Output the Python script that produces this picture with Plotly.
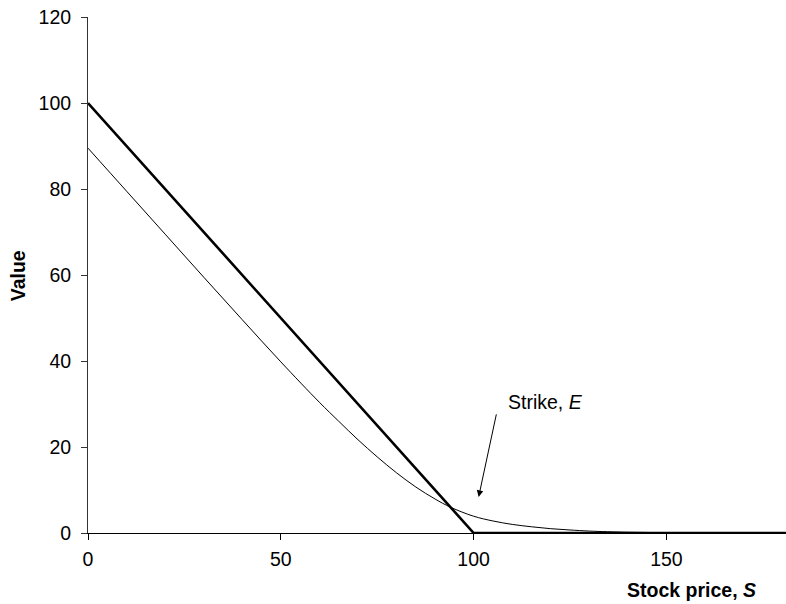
import plotly.graph_objects as go

# Payoff at expiry (thick line)
payoff_s = [0, 100, 181]
payoff_v = [100, 0, 0]

# Option value before expiry (thin curve)
value_s = [0, 10, 20, 30, 40, 50, 60, 65, 70, 75, 80, 85, 90, 94, 100,
           105, 110, 115, 120, 125, 130, 140, 150, 160, 170, 181]
value_v = [89.5, 79.5, 69.5, 59.5, 49.6, 39.8, 30.4, 26.0, 21.7, 17.7, 14.0,
           10.7, 7.9, 6.0, 3.9, 2.8, 2.0, 1.45, 1.0, 0.7, 0.45, 0.18, 0.07,
           0.03, 0.01, 0.0]

x_ticks = [0, 50, 100, 150]
y_ticks = [0, 20, 40, 60, 80, 100, 120]

FONT = "Liberation Sans, Arial, Helvetica, sans-serif"

fig = go.Figure()
fig.add_trace(go.Scatter(x=value_s, y=value_v, mode="lines",
                         line=dict(color="black", width=1, shape="spline"),
                         hoverinfo="skip", showlegend=False))
fig.add_trace(go.Scatter(x=payoff_s, y=payoff_v, mode="lines",
                         line=dict(color="black", width=2.6),
                         hoverinfo="skip", showlegend=False))

fig.update_layout(
    width=786, height=604,
    margin=dict(l=88, r=0, t=17, b=71),
    paper_bgcolor="white", plot_bgcolor="white",
    font=dict(family=FONT, size=19.5, color="black"),
    xaxis=dict(range=[0, 181], tickvals=x_ticks, ticks="outside", ticklen=6,
               tickcolor="black", showline=True, linecolor="black", linewidth=1,
               showgrid=False, zeroline=False, ticklabelstandoff=3),
    yaxis=dict(range=[0, 120], tickvals=y_ticks, ticks="outside", ticklen=6,
               tickcolor="#333", showline=True, linecolor="#333", linewidth=1,
               showgrid=False, zeroline=False, ticklabelstandoff=6),
    annotations=[
        dict(text="<b>Stock price, <i>S</i></b>", xref="paper", yref="paper",
             x=0.865, y=-0.110, xanchor="center", yanchor="middle",
             showarrow=False, font=dict(size=19.5)),
        dict(text="<b>Value</b>", xref="paper", yref="paper",
             x=-0.0999, y=0.498, xanchor="center", yanchor="middle",
             textangle=-90, showarrow=False, font=dict(size=19.5)),
        dict(text="", xref="x", yref="y", x=101.3, y=8.4,
             ax=18, ay=-84,
             showarrow=True, arrowhead=2, arrowsize=1.3, arrowwidth=1,
             arrowcolor="black", standoff=0),
        dict(text="Strike, <i>E</i>", xref="paper", yref="paper",
             x=0.655, y=0.254, xanchor="center", yanchor="middle",
             showarrow=False, font=dict(size=19.5)),
    ],
)

fig.write_html("out.html")
